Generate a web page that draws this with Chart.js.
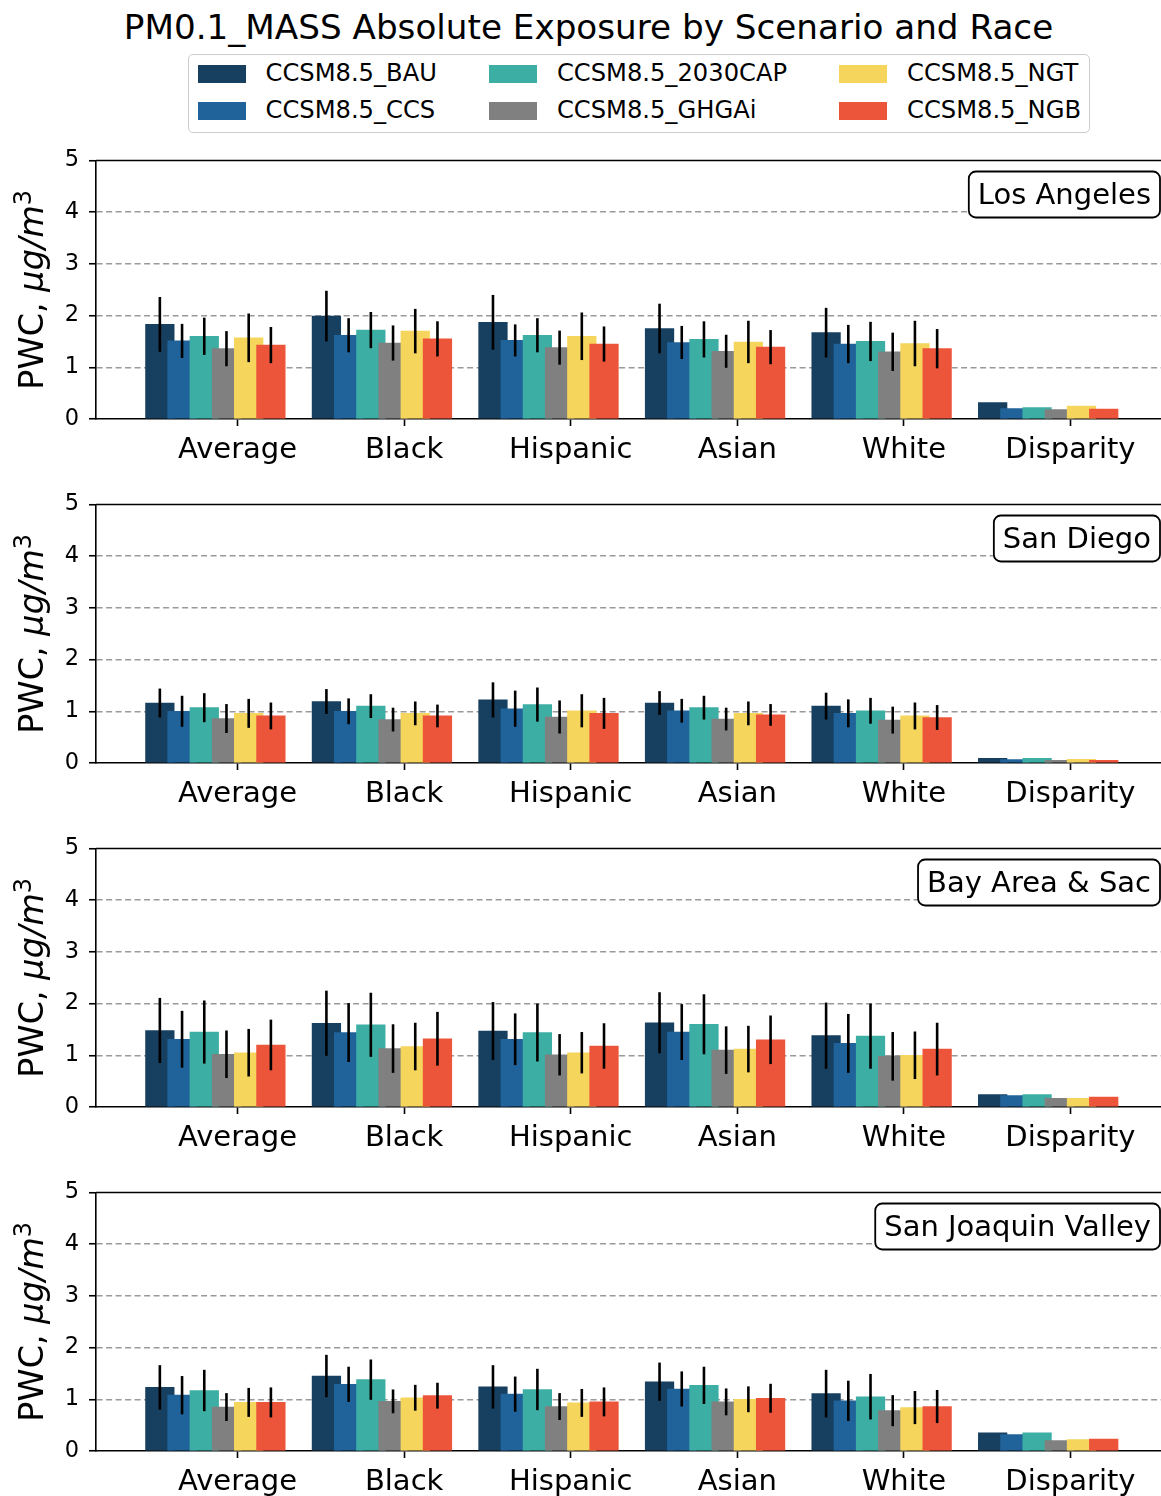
<!DOCTYPE html>
<html>
<head>
<meta charset="utf-8">
<script src="https://cdn.jsdelivr.net/npm/chart.js@4/dist/chart.umd.min.js"></script>
<style>
  html, body { margin: 0; padding: 0; background: #fff; overflow: hidden; }
  body { width: 1161px; height: 1496px; position: relative; font-family: "DejaVu Sans", sans-serif; color: #000; }
  #title { position: absolute; left: 0; top: 7px; width: 1177px; text-align: center; font-size: 34.2px; line-height: 40px; white-space: nowrap; }
  #legend {
    position: absolute; left: 188px; top: 54px; width: 902px; height: 79px; box-sizing: border-box;
    border: 1.5px solid #ccc; border-radius: 5px; background: #fff;
    display: grid; grid-template-rows: 37px 37px; grid-auto-flow: column; justify-content: start;
    column-gap: 52px; padding: 0 0 0 8.5px;
  }
  .item { display: flex; align-items: center; font-size: 24.2px; line-height: 37px; white-space: nowrap; }
  .swatch { display: inline-block; width: 48px; height: 18px; margin-right: 20px; }
  .panel { position: absolute; left: 0; }
</style>
</head>
<body>
<div id="title"></div>
<div id="legend"></div>
<canvas id="p0" class="panel" width="1170" height="356" style="top:137px"></canvas>
<canvas id="p1" class="panel" width="1170" height="356" style="top:481px"></canvas>
<canvas id="p2" class="panel" width="1170" height="356" style="top:825px"></canvas>
<canvas id="p3" class="panel" width="1170" height="356" style="top:1169px"></canvas>
<script>
const title = 'PM0.1_MASS Absolute Exposure by Scenario and Race';
const scenarios = ['CCSM8.5_BAU', 'CCSM8.5_CCS', 'CCSM8.5_2030CAP', 'CCSM8.5_GHGAi', 'CCSM8.5_NGT', 'CCSM8.5_NGB'];
const colors = ['#173F5F', '#20639B', '#3CAEA3', '#808080', '#F6D55C', '#ED553B'];
const groups = ['Average', 'Black', 'Hispanic', 'Asian', 'White', 'Disparity'];
const regions = ['Los Angeles', 'San Diego', 'Bay Area & Sac', 'San Joaquin Valley'];
const yTicks = [0, 1, 2, 3, 4, 5];

// one row per scenario, one column per group
const losAngeles = [
  [1.83, 1.99, 1.87, 1.75, 1.67, 0.32],
  [1.51, 1.62, 1.52, 1.48, 1.45, 0.20],
  [1.60, 1.72, 1.62, 1.54, 1.50, 0.22],
  [1.36, 1.47, 1.38, 1.31, 1.30, 0.18],
  [1.57, 1.70, 1.60, 1.49, 1.46, 0.25],
  [1.43, 1.55, 1.45, 1.39, 1.36, 0.19]
];
const losAngelesErr = [
  [0.53, 0.49, 0.53, 0.48, 0.48, null],
  [0.33, 0.33, 0.31, 0.32, 0.37, null],
  [0.36, 0.35, 0.33, 0.35, 0.38, null],
  [0.34, 0.34, 0.33, 0.32, 0.37, null],
  [0.47, 0.43, 0.46, 0.41, 0.44, null],
  [0.35, 0.34, 0.34, 0.33, 0.38, null]
];
const sanDiego = [
  [1.16, 1.19, 1.22, 1.16, 1.10, 0.09],
  [1.00, 1.00, 1.05, 1.01, 0.96, 0.065],
  [1.07, 1.10, 1.13, 1.07, 1.01, 0.09],
  [0.86, 0.84, 0.89, 0.85, 0.83, 0.05],
  [0.96, 0.96, 1.01, 0.96, 0.91, 0.07],
  [0.91, 0.91, 0.96, 0.93, 0.88, 0.05]
];
const sanDiegoErr = [
  [0.28, 0.24, 0.34, 0.23, 0.26, null],
  [0.30, 0.25, 0.35, 0.23, 0.27, null],
  [0.28, 0.23, 0.33, 0.23, 0.25, null],
  [0.28, 0.23, 0.32, 0.22, 0.26, null],
  [0.28, 0.23, 0.32, 0.23, 0.26, null],
  [0.26, 0.22, 0.30, 0.21, 0.24, null]
];
const bayArea = [
  [1.48, 1.62, 1.47, 1.63, 1.38, 0.24],
  [1.31, 1.44, 1.31, 1.45, 1.23, 0.22],
  [1.45, 1.59, 1.44, 1.60, 1.37, 0.24],
  [1.02, 1.13, 1.01, 1.10, 0.98, 0.17],
  [1.05, 1.17, 1.05, 1.12, 1.00, 0.17],
  [1.20, 1.32, 1.18, 1.30, 1.12, 0.19]
];
const bayAreaErr = [
  [0.63, 0.63, 0.56, 0.59, 0.64, null],
  [0.55, 0.57, 0.50, 0.54, 0.57, null],
  [0.61, 0.62, 0.56, 0.58, 0.63, null],
  [0.46, 0.47, 0.40, 0.46, 0.47, null],
  [0.46, 0.46, 0.40, 0.45, 0.46, null],
  [0.49, 0.52, 0.44, 0.47, 0.51, null]
];
const sanJoaquin = [
  [1.23, 1.45, 1.24, 1.34, 1.11, 0.35],
  [1.08, 1.29, 1.10, 1.20, 0.97, 0.32],
  [1.17, 1.38, 1.19, 1.27, 1.05, 0.35],
  [0.85, 0.96, 0.86, 0.95, 0.78, 0.20],
  [0.94, 1.03, 0.93, 1.00, 0.84, 0.22],
  [0.94, 1.07, 0.95, 1.02, 0.86, 0.23]
];
const sanJoaquinErr = [
  [0.43, 0.41, 0.42, 0.37, 0.46, null],
  [0.37, 0.34, 0.34, 0.34, 0.39, null],
  [0.40, 0.39, 0.40, 0.36, 0.44, null],
  [0.27, 0.23, 0.26, 0.26, 0.30, null],
  [0.28, 0.25, 0.27, 0.25, 0.32, null],
  [0.29, 0.25, 0.28, 0.28, 0.32, null]
];

Chart.defaults.font.family = '"DejaVu Sans", sans-serif';
Chart.defaults.color = '#000';

document.getElementById('title').textContent = title;

// legend: two rows, filled column by column
const legend = document.getElementById('legend');
scenarios.forEach((s, i) => {
  const item = document.createElement('div');
  item.className = 'item';
  item.innerHTML = '<span class="swatch" style="background:' + colors[i] + '"></span>';
  item.appendChild(document.createTextNode(s));
  legend.appendChild(item);
});

// vertical error bars, no caps
const errorBars = {
  id: 'errorBars',
  afterDatasetsDraw(chart) {
    const { ctx, scales: { y } } = chart;
    ctx.save();
    ctx.strokeStyle = '#000';
    ctx.lineWidth = 2.6;
    chart.data.datasets.forEach((ds, i) => {
      const meta = chart.getDatasetMeta(i);
      ds.errors.forEach((e, j) => {
        if (e == null) return;
        const bar = meta.data[j];
        const v = ds.data[j].y;
        ctx.beginPath();
        ctx.moveTo(bar.x, y.getPixelForValue(v - e));
        ctx.lineTo(bar.x, y.getPixelForValue(v + e));
        ctx.stroke();
      });
    });
    ctx.restore();
  }
};

// top spine
const topSpine = {
  id: 'topSpine',
  afterDatasetsDraw(chart) {
    const { ctx, chartArea: a } = chart;
    ctx.save();
    ctx.strokeStyle = '#000';
    ctx.lineWidth = 1.6;
    ctx.beginPath();
    ctx.moveTo(a.left, a.top);
    ctx.lineTo(a.right, a.top);
    ctx.stroke();
    ctx.restore();
  }
};

// region name in a rounded box, upper right
const regionBox = {
  id: 'regionBox',
  afterDraw(chart, args, opts) {
    const { ctx, chartArea: a } = chart;
    ctx.save();
    ctx.font = '29px "DejaVu Sans"';
    const w = ctx.measureText(opts.text).width + 18;
    const right = a.right - 7, top = a.top + 11, h = 46;
    ctx.beginPath();
    ctx.roundRect(right - w, top, w, h, 7);
    ctx.fillStyle = '#fff';
    ctx.fill();
    ctx.lineWidth = 1.8;
    ctx.strokeStyle = '#000';
    ctx.stroke();
    ctx.fillStyle = '#000';
    ctx.textBaseline = 'alphabetic';
    ctx.textAlign = 'right';
    ctx.fillText(opts.text, right - 9, top + 32);
    ctx.restore();
  }
};

// y axis title: "PWC, " upright, "μg/m" italic, superscript 3
const yLabel = {
  id: 'yLabel',
  afterDraw(chart) {
    const { ctx, chartArea: a } = chart;
    const parts = [
      { t: 'PWC, ', f: '33.5px "DejaVu Sans"', dy: 0 },
      { t: 'μg/m', f: 'italic 33.5px "DejaVu Sans"', dy: 0 },
      { t: '3', f: '24px "DejaVu Sans"', dy: -12 }
    ];
    ctx.save();
    ctx.translate(43, (a.top + a.bottom) / 2);
    ctx.rotate(-Math.PI / 2);
    ctx.textBaseline = 'alphabetic';
    ctx.textAlign = 'left';
    ctx.fillStyle = '#000';
    let total = 0;
    parts.forEach(p => { ctx.font = p.f; p.w = ctx.measureText(p.t).width; total += p.w; });
    let x = -total / 2;
    parts.forEach(p => { ctx.font = p.f; ctx.fillText(p.t, x, p.dy); x += p.w; });
    ctx.restore();
  }
};

function makePanel(id, name, means, errs) {
  const slot = 0.8 / scenarios.length;
  const datasets = scenarios.map((s, i) => ({
    label: s,
    data: groups.map((g, j) => ({ x: j + (i - (scenarios.length + 1) / 2) * slot, y: means[i][j] })),
    errors: errs[i],
    backgroundColor: colors[i],
    borderWidth: 0,
    order: scenarios.length - i
  }));

  new Chart(document.getElementById(id), {
    type: 'bar',
    data: { datasets: datasets },
    options: {
      responsive: false,
      animation: false,
      devicePixelRatio: 1,
      layout: { padding: { top: 14, right: 3, bottom: 0, left: 0 } },
      datasets: { bar: { grouped: false, barThickness: 28.6 } },
      plugins: {
        legend: { display: false },
        tooltip: { enabled: false },
        regionBox: { text: name }
      },
      scales: {
        x: {
          type: 'linear',
          min: -0.85,
          max: 5.58,
          offset: false,
          afterBuildTicks: ax => { ax.ticks = groups.map((g, j) => ({ value: j })); },
          afterFit: ax => { ax.height = 74; },
          grid: { drawOnChartArea: false, drawTicks: true, tickLength: 7, tickColor: '#000', tickWidth: 1.6, offset: false },
          border: { display: true, color: '#000', width: 1.6 },
          ticks: {
            callback: v => groups[v],
            autoSkip: false,
            maxRotation: 0,
            padding: 7,
            font: { size: 29 }
          }
        },
        y: {
          min: 0,
          max: 5,
          afterBuildTicks: ax => { ax.ticks = yTicks.map(v => ({ value: v })); },
          afterFit: ax => { ax.width = 96; },
          grid: {
            color: c => (c.tick && c.tick.value > 0 && c.tick.value < 5) ? '#999' : 'rgba(0,0,0,0)',
            lineWidth: 1.5,
            tickLength: 7,
            tickColor: '#000',
            tickWidth: 1.6
          },
          border: { display: true, color: '#000', width: 1.6, dash: [6, 3.5] },
          ticks: { padding: 10, font: { size: 22.5 } }
        }
      }
    },
    plugins: [errorBars, topSpine, regionBox, yLabel]
  });
}

makePanel('p0', regions[0], losAngeles, losAngelesErr);
makePanel('p1', regions[1], sanDiego, sanDiegoErr);
makePanel('p2', regions[2], bayArea, bayAreaErr);
makePanel('p3', regions[3], sanJoaquin, sanJoaquinErr);
</script>
</body>
</html>
